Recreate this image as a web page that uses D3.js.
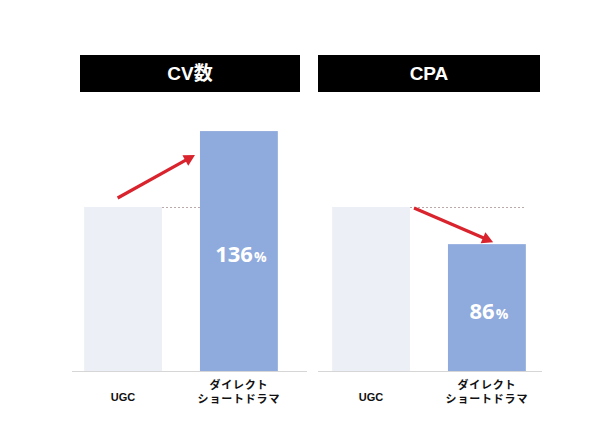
<!DOCTYPE html>
<html>
<head>
<meta charset="utf-8">
<script src="https://cdn.jsdelivr.net/npm/d3@7"></script>
<style>
  html, body { margin: 0; padding: 0; background: #fff; }
  svg { display: block; }
</style>
</head>
<body>
<svg id="chart" width="602" height="421"></svg>
<script>
// Categories shared by both panels (second label wraps onto two lines)
const categories = ["UGC", "ダイレクト\nショートドラマ"];
const panelTitles = ["CV数", "CPA"];
// Relative values, UGC = 100
const cvValues = [100, 136];
const cpaValues = [100, 86];
// Value at the baseline of each panel's axis
const cvAxisMin = 22;
const cpaAxisMin = 38;

const panels = [
  { title: panelTitles[0], values: cvValues, axisMin: cvAxisMin, x0: 61, titleX: 80, titleW: 220, baseX: 72, baseW: 235, up: true },
  { title: panelTitles[1], values: cpaValues, axisMin: cpaAxisMin, x0: 309, titleX: 318, titleW: 222, baseX: 318, baseW: 224, up: false }
];

const svg = d3.select("#chart");
const latin = "'Liberation Sans', Arial, 'Noto Sans CJK JP', sans-serif";
const baseY = 371.5, refY = 207;
const colors = ["#eceff5", "#8faadc"];
const red = "#d9232d";

panels.forEach(p => {
  const g = svg.append("g");

  const x = d3.scaleBand()
    .domain(categories)
    .range([p.x0, p.x0 + 240])
    .paddingInner(0.3276)
    .paddingOuter(0.2);

  const y = d3.scaleLinear()
    .domain([p.axisMin, 100])
    .range([baseY, refY]);

  // Title banner
  g.append("rect")
    .attr("x", p.titleX).attr("y", 55)
    .attr("width", p.titleW).attr("height", 37)
    .attr("fill", "#000");
  g.append("text")
    .attr("x", p.titleX + p.titleW / 2).attr("y", 80)
    .attr("text-anchor", "middle")
    .attr("fill", "#fff")
    .attr("font-family", latin)
    .attr("font-weight", "bold")
    .attr("font-size", 19)
    .text(p.title);

  // Bars
  g.selectAll("rect.bar")
    .data(p.values)
    .join("rect")
    .attr("class", "bar")
    .attr("x", (d, i) => x(categories[i]))
    .attr("y", d => y(d))
    .attr("width", x.bandwidth())
    .attr("height", d => baseY - y(d))
    .attr("fill", (d, i) => colors[i]);

  // Baseline
  g.append("line")
    .attr("x1", p.baseX).attr("x2", p.baseX + p.baseW)
    .attr("y1", baseY).attr("y2", baseY)
    .attr("stroke", "#d6d6d6").attr("stroke-width", 1);

  // Dotted reference line at the UGC level
  const ugcRight = x(categories[0]) + x.bandwidth();
  const dirLeft = x(categories[1]);
  g.append("line")
    .attr("x1", ugcRight)
    .attr("x2", p.up ? dirLeft : dirLeft + x.bandwidth())
    .attr("y1", y(p.values[0]) + 0.5).attr("y2", y(p.values[0]) + 0.5)
    .attr("stroke", "#b9a9a9")
    .attr("stroke-width", 1)
    .attr("stroke-dasharray", "2,2");

  // Trend arrow from the UGC bar toward the drama bar
  let sx, sy, ex, ey;
  if (p.up) {
    sx = x(categories[0]) + x.bandwidth() * 0.43; sy = y(p.values[0]) - 9;
    ex = dirLeft - 5; ey = y(p.values[1]) + 24;
  } else {
    sx = ugcRight + 4; sy = y(p.values[0]) + 1;
    ex = dirLeft + x.bandwidth() * 0.58; ey = y(p.values[1]) - 2;
  }
  const ang = Math.atan2(ey - sy, ex - sx);
  const headL = 11, headW = 6;
  const bx = ex - headL * Math.cos(ang), by = ey - headL * Math.sin(ang);
  g.append("line")
    .attr("x1", sx).attr("y1", sy)
    .attr("x2", bx + 2 * Math.cos(ang)).attr("y2", by + 2 * Math.sin(ang))
    .attr("stroke", red).attr("stroke-width", 3.2);
  g.append("path")
    .attr("d", d3.line()([
      [ex, ey],
      [bx + headW * Math.sin(ang), by - headW * Math.cos(ang)],
      [bx - headW * Math.sin(ang), by + headW * Math.cos(ang)]
    ]) + "Z")
    .attr("fill", red);

  // Value label inside the drama bar
  const v = p.values[1];
  const lbl = g.append("text")
    .attr("x", dirLeft + x.bandwidth() / 2 + 2)
    .attr("y", (y(v) + baseY) / 2 + 11)
    .attr("text-anchor", "middle")
    .attr("fill", "#fff")
    .attr("font-family", "'Open Sans', 'Liberation Sans', sans-serif")
    .attr("font-weight", "bold");
  lbl.append("tspan").attr("font-size", 22).text(v);
  lbl.append("tspan").attr("font-size", 14).attr("dx", 1).text("%");

  // Category labels
  categories.forEach((c, i) => {
    const lines = c.split("\n");
    const cx = x(c) + x.bandwidth() / 2;
    const t = g.append("text")
      .attr("text-anchor", "middle")
      .attr("fill", "#111")
      .attr("font-family", latin)
      .attr("font-weight", "bold")
      .attr("font-size", 11);
    if (lines.length === 1) {
      t.append("tspan").attr("x", cx).attr("y", 401).text(lines[0]);
    } else {
      t.attr("letter-spacing", 0.8);
      lines.forEach((l, k) => {
        t.append("tspan").attr("x", cx).attr("y", 389 + k * 13.5).text(l);
      });
    }
  });
});
</script>
</body>
</html>
